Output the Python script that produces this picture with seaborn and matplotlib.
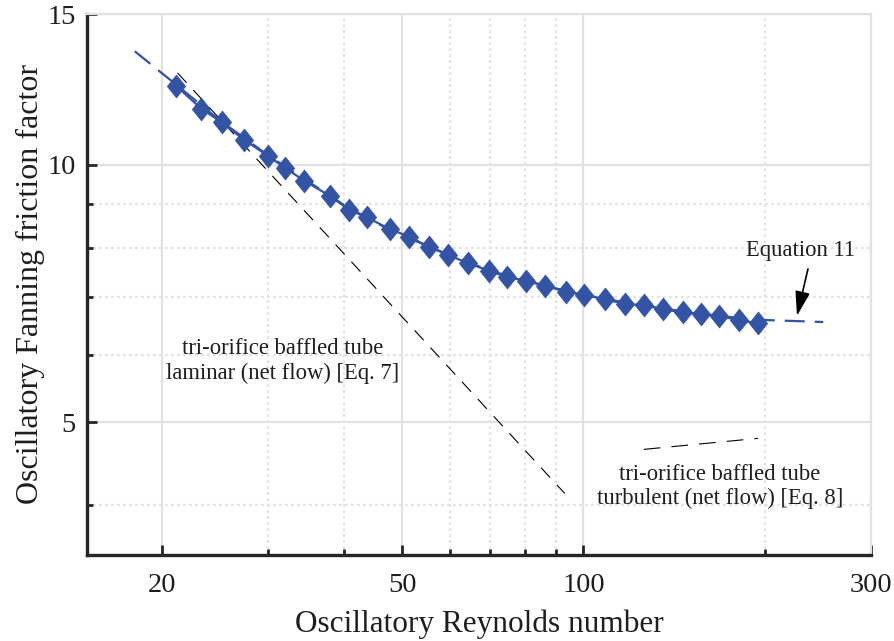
import numpy as np
import pandas as pd
import matplotlib
matplotlib.use("Agg")
import matplotlib.pyplot as plt
from matplotlib.ticker import FixedLocator, FixedFormatter, NullFormatter
import seaborn as sns

# ---------------- data ----------------
re_exp = [21.1, 23.2, 25.1, 27.3, 29.9, 32.0, 34.4, 37.9, 40.8, 43.7,
          47.7, 51.4, 55.5, 59.6, 64.3, 69.7, 74.7, 80.4, 86.4, 93.4,
          100.2, 108.5, 117.1, 126.1, 135.6, 146.0, 156.6, 168.0, 181.1, 195.0]
f_exp = [12.36, 11.63, 11.21, 10.70, 10.25, 9.91, 9.58, 9.20, 8.86, 8.68,
         8.41, 8.24, 8.01, 7.85, 7.67, 7.52, 7.39, 7.32, 7.22, 7.11,
         7.05, 6.96, 6.88, 6.85, 6.78, 6.72, 6.70, 6.66, 6.58, 6.53]

re_eq11 = [18.0, 21.1, 25.0, 30.0, 35.0, 40.0, 45.0, 50.0, 60.0, 70.0,
           80.0, 90.0, 100.0, 120.0, 140.0, 160.0, 195.0, 250.0]
f_eq11 = [13.57, 12.40, 11.25, 10.25, 9.55, 8.98, 8.57, 8.27, 7.84, 7.52,
          7.32, 7.17, 7.05, 6.88, 6.77, 6.68, 6.59, 6.55]

re_lam = [21.2, 93.1]
f_lam = [12.80, 4.13]

re_turb = [125.9, 194.8]
f_turb = [4.65, 4.79]

x_major = [20, 50, 100, 300]
x_minor = [30, 40, 60, 70, 80, 90, 200]
y_major = [5, 10, 15]
y_minor = [4, 6, 7, 8, 9]

# ---------------- style ----------------
sns.set_theme(style="white")
plt.rcParams['font.family'] = ['Liberation Serif', 'DejaVu Serif']

blue = '#3353a5'
grid_c = '#e2e2e2'
axis_c = '#262626'
text_c = '#1e1e1e'

fig = plt.figure(figsize=(8.95, 6.41), dpi=100)
ax = fig.add_axes([87/895, 1 - 555/641, (871-87)/895, (555-14)/641])

df_exp = pd.DataFrame({'Re': re_exp, 'f': f_exp})
df_eq = pd.DataFrame({'Re': re_eq11, 'f': f_eq11})
df_lam = pd.DataFrame({'Re': re_lam, 'f': f_lam})
df_turb = pd.DataFrame({'Re': re_turb, 'f': f_turb})

ax.set_xscale('log')
ax.set_yscale('log')

sns.lineplot(data=df_lam, x='Re', y='f', ax=ax, color='black', lw=0.8,
             linestyle=(0, (12, 9)), zorder=3)
sns.lineplot(data=df_turb, x='Re', y='f', ax=ax, color='black', lw=0.8,
             linestyle=(0, (15, 10)), zorder=3)
sns.lineplot(data=df_eq, x='Re', y='f', ax=ax, color=blue, lw=1.6,
             linestyle=(0, (9, 4.5)), zorder=4)
diamond = [(-0.8, 0), (0, 1), (0.8, 0), (0, -1), (-0.8, 0)]
sns.lineplot(data=df_exp, x='Re', y='f', ax=ax, color=blue, lw=1.6,
             marker=diamond, markersize=16.5, markeredgecolor=blue,
             markeredgewidth=0.5, markerfacecolor=blue, zorder=5)

ax.set_xlim(15, 300)
ax.set_ylim(3.5, 15)

ax.xaxis.set_major_locator(FixedLocator(x_major))
ax.xaxis.set_major_formatter(FixedFormatter([str(v) for v in x_major]))
ax.xaxis.set_minor_locator(FixedLocator(x_minor))
ax.xaxis.set_minor_formatter(NullFormatter())
ax.yaxis.set_major_locator(FixedLocator(y_major))
ax.yaxis.set_major_formatter(FixedFormatter([str(v) for v in y_major]))
ax.yaxis.set_minor_locator(FixedLocator(y_minor))
ax.yaxis.set_minor_formatter(NullFormatter())

ax.grid(which='major', color=grid_c, lw=1.6, ls='-', zorder=0)
ax.grid(which='minor', color=grid_c, lw=1.6, ls=(0, (1.2, 1.5)), zorder=0)
ax.set_axisbelow(True)

for s in ['left', 'bottom']:
    ax.spines[s].set_color(axis_c)
    ax.spines[s].set_linewidth(2.4)
for s in ['top', 'right']:
    ax.spines[s].set_color(grid_c)
    ax.spines[s].set_linewidth(1.6)

ax.tick_params(which='both', direction='in', top=False, right=False,
               left=True, bottom=True, color=axis_c, width=2)
ax.tick_params(which='major', length=7, labelsize=20.5, labelcolor=text_c)
ax.tick_params(which='minor', length=4.5)
ax.tick_params(axis='y', which='major', pad=8)
ax.tick_params(axis='x', which='major', pad=13)

ax.set_xlabel('Oscillatory Reynolds number', fontsize=22.5, color=text_c, labelpad=8)
ax.set_ylabel('Oscillatory Fanning friction factor', fontsize=23, color=text_c, labelpad=2)

ax.text(31.65, 5.9, 'tri-orifice baffled tube\nlaminar (net flow) [Eq. 7]',
        ha='center', va='center', fontsize=16.3, color=text_c, linespacing=1.2)
ax.text(168.4, 4.21, 'tri-orifice baffled tube\nturbulent (net flow) [Eq. 8]',
        ha='center', va='center', fontsize=16.3, color=text_c, linespacing=1.2)
ax.text(229.5, 7.93, 'Equation 11', ha='center', va='center', fontsize=16.3,
        color=text_c)
ax.annotate('', xy=(226.1, 6.66), xytext=(235.8, 7.555),
            arrowprops=dict(arrowstyle='-|>,head_length=1.0,head_width=0.3',
                            color='black', lw=1.2, mutation_scale=15,
                            shrinkA=0, shrinkB=0), zorder=6)

fig.savefig('out.png', dpi=100)
